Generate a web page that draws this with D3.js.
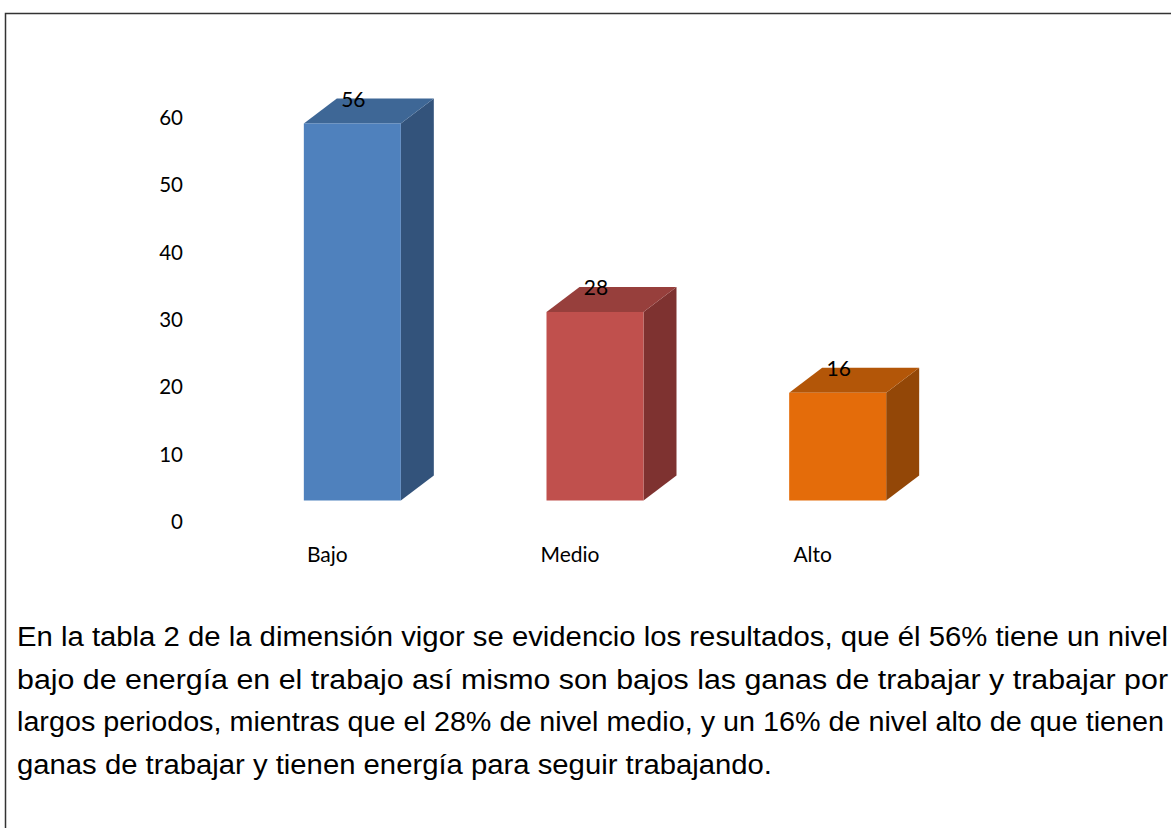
<!DOCTYPE html>
<html>
<head>
<meta charset="utf-8">
<script src="https://cdn.jsdelivr.net/npm/d3@7"></script>
<style>
  html, body { margin: 0; padding: 0; background: #fff; }
  svg { display: block; }
</style>
</head>
<body>
<svg id="chart" width="1171" height="828"></svg>
<script>
// ---- data ----
const categories = ["Bajo", "Medio", "Alto"];
const values = [56, 28, 16];
const yTicks = [0, 10, 20, 30, 40, 50, 60];
const frontColors = ["#4F81BD", "#C0504D", "#E46C0A"];
const topColors = ["#3E6796", "#973F3C", "#B35608"];
const sideColors = ["#33537B", "#7E3230", "#934707"];
const paragraphLines = [
  "En la tabla 2 de la dimensión vigor se evidencio los resultados, que él 56% tiene un nivel",
  "bajo de energía en el trabajo así mismo son bajos las ganas de trabajar y trabajar por",
  "largos periodos, mientras que el 28% de nivel medio, y un 16% de nivel alto de que tienen",
  "ganas de trabajar y tienen energía para seguir trabajando."
];
const paragraphWidths = [1151, 1151, 1147, 755];

// ---- drawing ----
const svg = d3.select("#chart");

// frame
svg.append("path")
  .attr("d", "M5.5,828 L5.5,13.5 L1171,13.5")
  .attr("fill", "none").attr("stroke", "#333").attr("stroke-width", 1.5);

const y = d3.scaleLinear().domain([0, 60]).range([521, 117]);
const x = d3.scaleBand().domain(categories).range([206, 934]).padding(0);

const floorDy = -20.5;    // front face base offset vs axis zero
const barOffsetX = 25;    // bar shift vs category label
const depthX = 33, depthY = -25;
const barW = 97;
const labelFont = "Lato, 'Open Sans', sans-serif";

// y axis labels
svg.append("g").selectAll("text").data(yTicks).join("text")
  .attr("x", 183).attr("y", d => y(d))
  .attr("text-anchor", "end").attr("dominant-baseline", "central")
  .attr("font-family", labelFont).attr("font-size", 20.5)
  .attr("fill", "#000").text(d => d);

// bars
const bars = svg.append("g").selectAll("g").data(categories).join("g");
bars.each(function (c, i) {
  const g = d3.select(this);
  const x0 = x(c) + x.bandwidth() / 2 + barOffsetX - barW / 2;
  const x1 = x0 + barW;
  const yb = y(0) + floorDy;
  const yt = y(values[i]) + floorDy;
  // side
  g.append("path")
    .attr("d", `M${x1},${yb} L${x1 + depthX},${yb + depthY} L${x1 + depthX},${yt + depthY} L${x1},${yt} Z`)
    .attr("fill", sideColors[i]);
  // top
  g.append("path")
    .attr("d", `M${x0},${yt} L${x0 + depthX},${yt + depthY} L${x1 + depthX},${yt + depthY} L${x1},${yt} Z`)
    .attr("fill", topColors[i]);
  // front
  g.append("rect")
    .attr("x", x0).attr("y", yt).attr("width", barW).attr("height", yb - yt)
    .attr("fill", frontColors[i]);
  // value label
  g.append("text")
    .attr("x", x0 + barW / 2 + 1).attr("y", yt + depthY)
    .attr("text-anchor", "middle").attr("dominant-baseline", "central")
    .attr("font-family", labelFont).attr("font-size", 21)
    .attr("fill", "#000").text(values[i]);
});

// category labels
svg.append("g").selectAll("text").data(categories).join("text")
  .attr("x", d => x(d) + x.bandwidth() / 2).attr("y", 553)
  .attr("text-anchor", "middle").attr("dominant-baseline", "central")
  .attr("font-family", labelFont).attr("font-size", 21)
  .attr("fill", "#000").text(d => d);

// paragraph
svg.append("g").selectAll("text").data(paragraphLines).join("text")
  .attr("x", 17).attr("y", (d, i) => 646 + i * 42.7)
  .attr("font-family", "'Liberation Sans', Arial, sans-serif").attr("font-size", 27)
  .attr("fill", "#000")
  .attr("textLength", (d, i) => paragraphWidths[i])
  .attr("lengthAdjust", "spacingAndGlyphs")
  .text(d => d);
</script>
</body>
</html>
